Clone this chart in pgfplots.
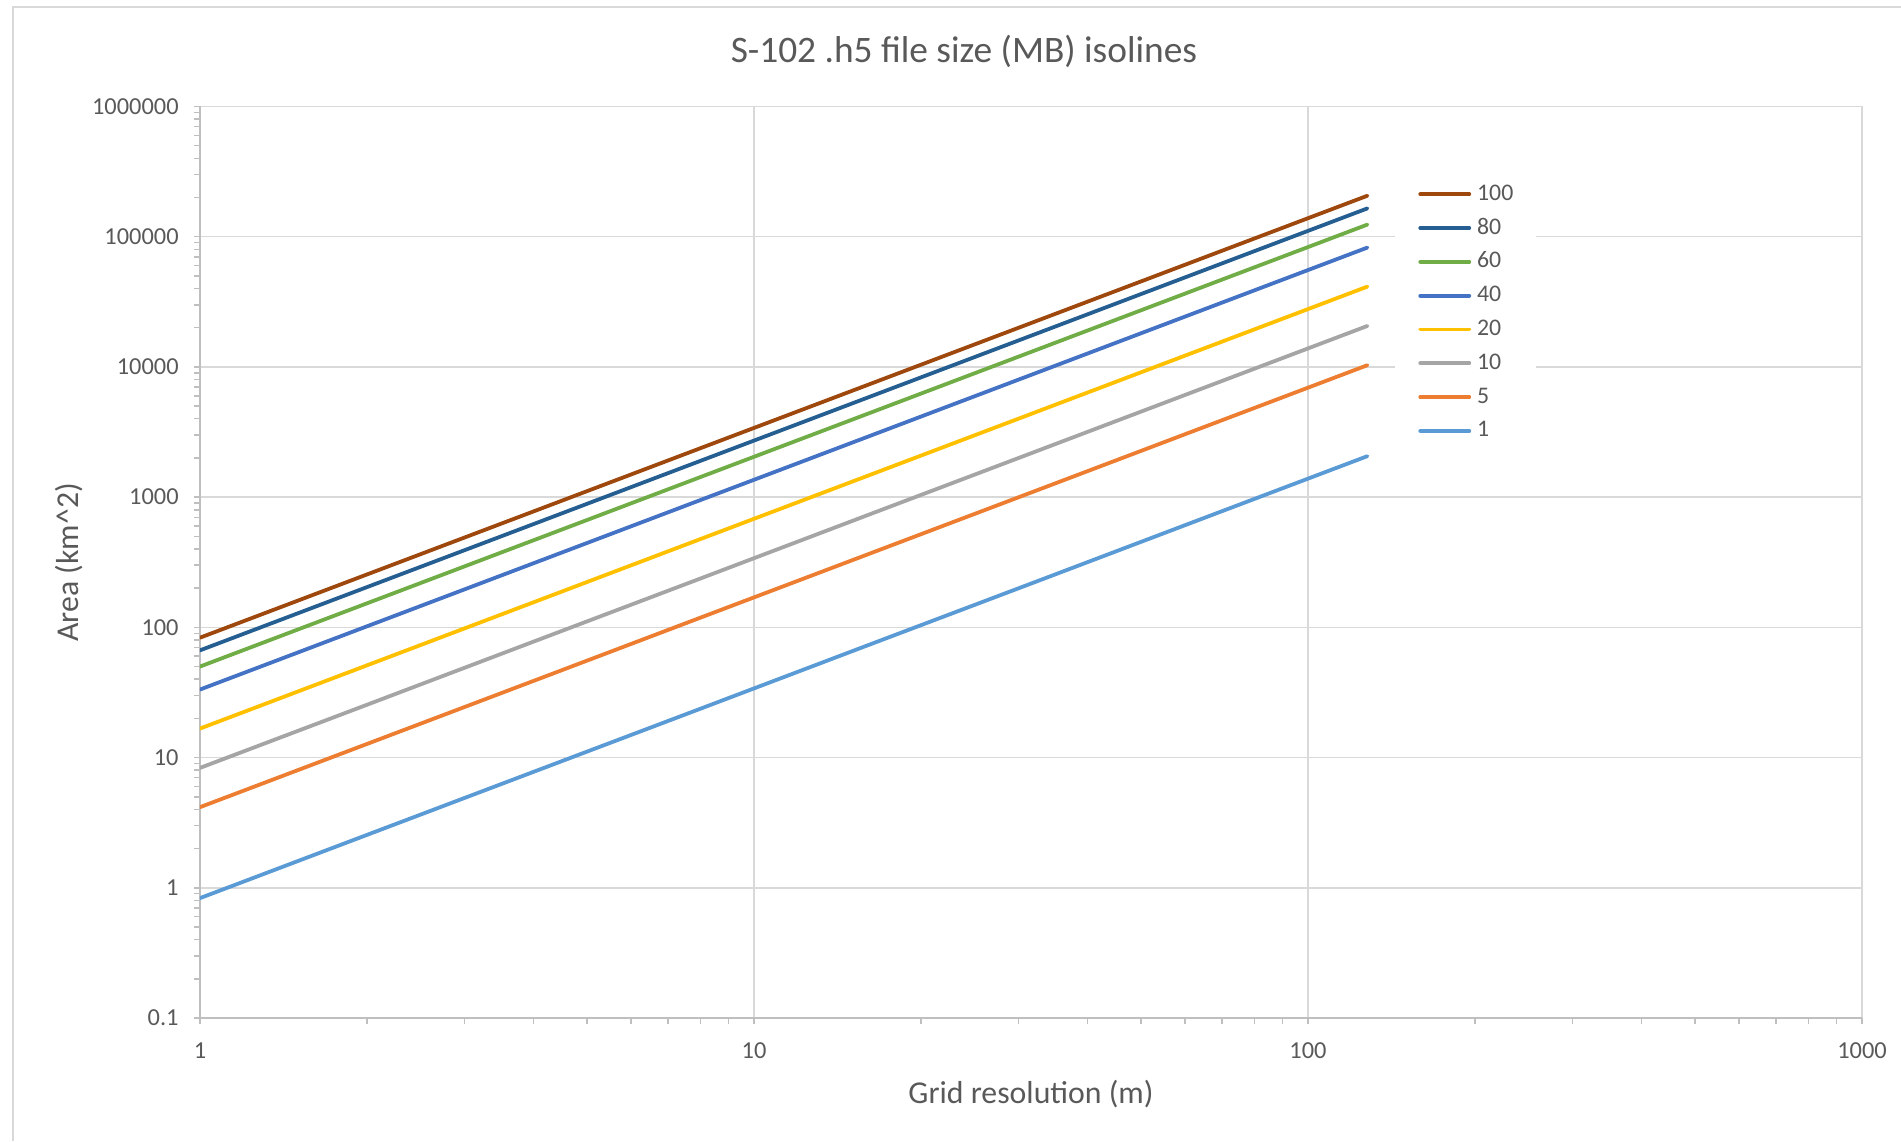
\documentclass[border=0pt]{standalone}
\usepackage{fontspec}
\setmainfont{Carlito}
\usepackage{pgfplots}
\pgfplotsset{compat=1.18}
\definecolor{c1}{HTML}{5B9BD5}
\definecolor{c5}{HTML}{ED7D31}
\definecolor{c10}{HTML}{A5A5A5}
\definecolor{c20}{HTML}{FFC000}
\definecolor{c40}{HTML}{4472C4}
\definecolor{c60}{HTML}{70AD47}
\definecolor{c80}{HTML}{255E91}
\definecolor{c100}{HTML}{9E480E}
\definecolor{gridgray}{HTML}{D9D9D9}
\definecolor{axgray}{HTML}{BFBFBF}
\definecolor{txt}{HTML}{595959}
\begin{document}
\begin{tikzpicture}
\useasboundingbox (-100pt,-61.5pt) rectangle (850.5pt,509pt);
\draw[gridgray,line width=0.75pt] (-93.5pt,-61.5pt) -- (-93.5pt,505.5pt) -- (850.5pt,505.5pt);
\begin{axis}[
  scale only axis,
  width=831pt, height=455.75pt,
  xmode=log, ymode=log,
  xmin=1, xmax=1000, ymin=0.1, ymax=1000000,
  axis lines=left,
  axis line style={-, axgray, line width=0.75pt},
  tick align=outside,
  major tick length=3pt, minor tick length=3pt,
  every tick/.style={axgray, line width=0.75pt},
  grid=major,
  major grid style={gridgray, line width=0.75pt},
  xtick={1,10,100,1000}, xticklabels={1,10,100,1000},
  ytick={0.1,1,10,100,1000,10000,100000,1000000},
  yticklabels={0.1,1,10,100,1000,10000,100000,1000000},
  /pgf/number format/assume math mode=true,
  ticklabel style={font=\fontsize{12.2pt}{14.5pt}\selectfont, text=txt},
  yticklabel style={inner sep=0pt, anchor=east, xshift=-7.5pt},
  xticklabel style={inner sep=0pt, anchor=north, yshift=-9pt},
  title={S-102 .h5 file size (MB) isolines},
  every axis title/.style={at={(axis description cs:0.4597,1.0609)}, anchor=center, font=\fontsize{18.7pt}{22pt}\selectfont, text=txt},
  xlabel={Grid resolution (m)},
  ylabel={Area (km\textasciicircum 2)},
  every axis x label/.style={at={(axis description cs:0.5,-0.0835)}, anchor=center, font=\fontsize{15.9pt}{19pt}\selectfont, text=txt},
  every axis y label/.style={at={(axis description cs:-0.0788,0.5)}, rotate=90, anchor=center, font=\fontsize{15.9pt}{19pt}\selectfont, text=txt},
  legend style={at={(axis description cs:0.719,0.925)}, anchor=north west, draw=none, fill=white,
    font=\fontsize{11.9pt}{14pt}\selectfont, text=txt,
    inner xsep=11.5pt, inner ysep=4pt,
    nodes={inner sep=0pt, text height=8.5pt, text depth=2.5pt},
    row sep=5.9pt, column sep=3pt},
  legend cell align=left,
  legend image code/.code={\draw[#1, line width=1.9pt, line cap=round] (1pt,0pt) -- (25.5pt,0pt);},
  every axis plot/.append style={line width=1.9pt, line cap=round, mark=none},
]
\addplot[c100] coordinates {(1,83.3) (2,254.4) (4,777) (8,2374) (16,7247) (32,22133) (64,67598) (128,206400)};
\addlegendentry{100}
\addplot[c80] coordinates {(1,66.6) (2,203.4) (4,621) (8,1898) (16,5794) (32,17696) (64,54046) (128,165000)};
\addlegendentry{80}
\addplot[c60] coordinates {(1,50) (2,152.7) (4,466.5) (8,1425) (16,4350) (32,13285) (64,40575) (128,123900)};
\addlegendentry{60}
\addplot[c40] coordinates {(1,33.3) (2,101.7) (4,310.7) (8,949) (16,2897) (32,8848) (64,27020) (128,82520)};
\addlegendentry{40}
\addplot[c20] coordinates {(1,16.7) (2,51.0) (4,155.8) (8,476) (16,1453) (32,4437) (64,13550) (128,41380)};
\addlegendentry{20}
\addplot[c10] coordinates {(1,8.33) (2,25.4) (4,77.7) (8,237) (16,725) (32,2213) (64,6760) (128,20640)};
\addlegendentry{10}
\addplot[c5] coordinates {(1,4.16) (2,12.7) (4,38.8) (8,118.6) (16,362) (32,1105) (64,3376) (128,10310)};
\addlegendentry{5}
\addplot[c1] coordinates {(1,0.833) (2,2.544) (4,7.77) (8,23.7) (16,72.5) (32,221) (64,676) (128,2064)};
\addlegendentry{1}
\end{axis}
\end{tikzpicture}
\end{document}
